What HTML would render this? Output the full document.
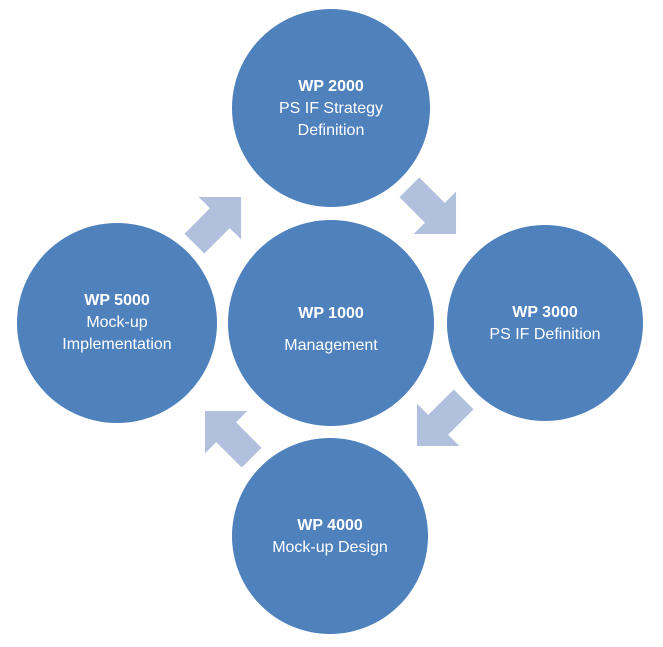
<!DOCTYPE html>
<html><head><style>
body{margin:0;background:#fff;}
svg{display:block}
text{font-family:"Liberation Sans",sans-serif;fill:#fff;font-size:16px;text-anchor:middle}
.b{font-weight:bold}
</style></head><body>
<svg width="663" height="647" viewBox="0 0 663 647">
<defs><polygon id="ar" points="-32,-14 4,-14 4,-30 34,0 4,30 4,14 -32,14" fill="#B0C0DD"/></defs>
<use href="#ar" transform="translate(217,221) rotate(-45)"/>
<use href="#ar" transform="translate(432,210) rotate(45)"/>
<use href="#ar" transform="translate(441,422) rotate(135)"/>
<use href="#ar" transform="translate(229,435) rotate(-135)"/>
<g fill="#4F81BD">
<circle cx="331" cy="108" r="99"/>
<circle cx="331" cy="323" r="103"/>
<circle cx="545" cy="323" r="98"/>
<circle cx="117" cy="323" r="100"/>
<circle cx="330" cy="536" r="98"/>
</g>
<text x="331" y="91" class="b">WP 2000</text>
<text x="331" y="113">PS IF Strategy</text>
<text x="331" y="135">Definition</text>
<text x="331" y="318" class="b">WP 1000</text>
<text x="331" y="350">Management</text>
<text x="545" y="317" class="b">WP 3000</text>
<text x="545" y="339">PS IF Definition</text>
<text x="117" y="305" class="b">WP 5000</text>
<text x="117" y="327">Mock-up</text>
<text x="117" y="349">Implementation</text>
<text x="330" y="530" class="b">WP 4000</text>
<text x="330" y="552">Mock-up Design</text>
</svg>
</body></html>
